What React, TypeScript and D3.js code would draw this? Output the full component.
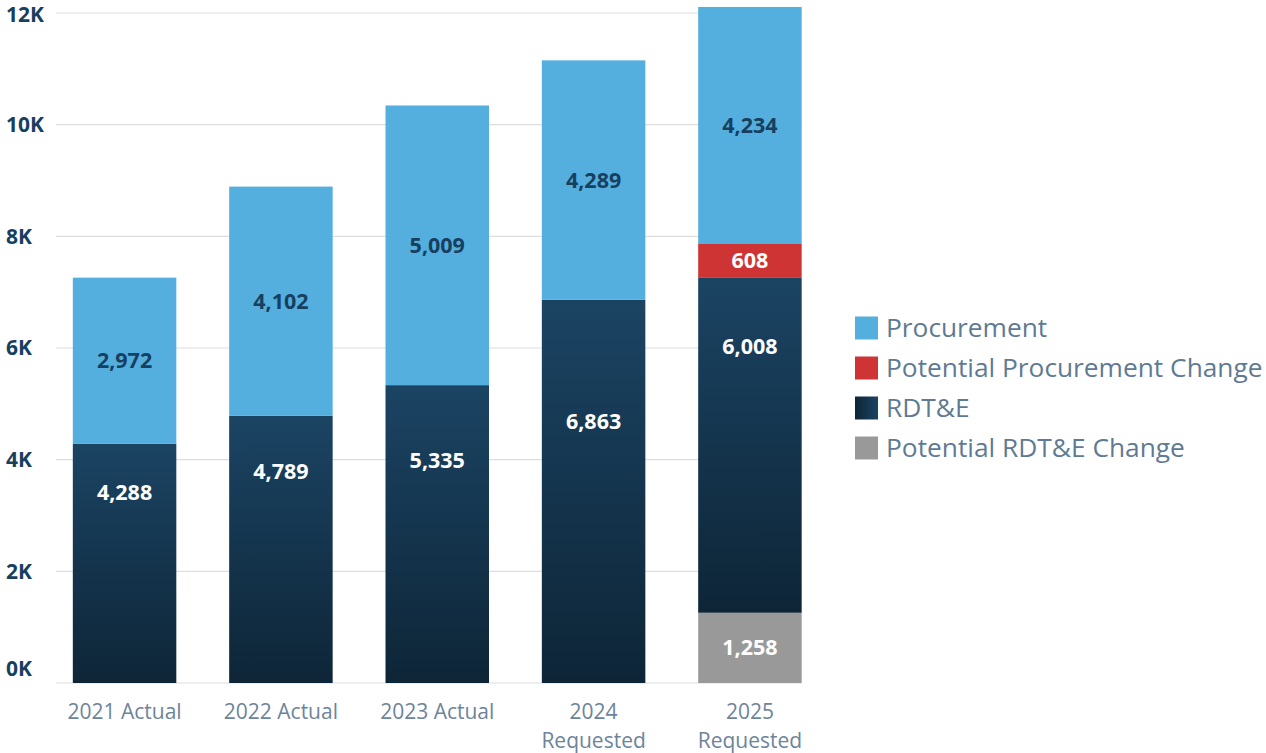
import React from "react";
import * as d3 from "d3";

const categories = ["2021 Actual", "2022 Actual", "2023 Actual", "2024 Requested", "2025 Requested"];
const potentialRdte = [0, 0, 0, 0, 1258];
const rdte = [4288, 4789, 5335, 6863, 6008];
const potentialProcurement = [0, 0, 0, 0, 608];
const procurement = [2972, 4102, 5009, 4289, 4234];
// where the RDT&E value labels sit, in data units
const rdteLabelAt = [3420, 3780, 3990, 4690, 6020];
const yTicks = [0, 2000, 4000, 6000, 8000, 10000, 12000];

const seriesNames = ["Procurement", "Potential Procurement Change", "RDT&E", "Potential RDT&E Change"];

const W = 1266;
const H = 753;
const FONT = "'Open Sans', 'Noto Sans', sans-serif";

export default function App() {
  const x = d3.scaleBand<string>().domain(categories).range([46.4, 828.1]).paddingInner(0.338).paddingOuter(0.169);
  const y = d3.scaleLinear().domain([0, 12000]).range([683, 13]);
  const fmt = d3.format(",");

  const stackKeys = ["potentialRdte", "rdte", "potentialProcurement", "procurement"];
  const rows = categories.map((c, i) => ({
    cat: c,
    potentialRdte: potentialRdte[i],
    rdte: rdte[i],
    potentialProcurement: potentialProcurement[i],
    procurement: procurement[i],
  }));
  const stacked = d3.stack<any>().keys(stackKeys)(rows);

  const fills: Record<string, string> = {
    potentialRdte: "#999999",
    rdte: "url(#darkV)",
    potentialProcurement: "#cf3435",
    procurement: "#54afde",
  };
  const labelColor: Record<string, string> = {
    potentialRdte: "#ffffff",
    rdte: "#ffffff",
    potentialProcurement: "#ffffff",
    procurement: "#173f5f",
  };
  const legendFills = ["#54afde", "#cf3435", "url(#darkH)", "#999999"];

  const bw = x.bandwidth();
  const gridX0 = 56;
  const gridX1 = (x(categories[categories.length - 1]) as number) + bw;

  return (
    <svg width={W} height={H} style={{ position: "absolute", left: 0, top: 0 }} fontFamily={FONT}>
      <defs>
        <linearGradient id="darkV" x1="0" y1="0" x2="0" y2="1">
          <stop offset="0" stopColor="#1b4463" />
          <stop offset="1" stopColor="#0e2537" />
        </linearGradient>
        <linearGradient id="darkH" x1="0" y1="0" x2="1" y2="0">
          <stop offset="0" stopColor="#0e2537" />
          <stop offset="1" stopColor="#1b4463" />
        </linearGradient>
      </defs>
      <rect x={0} y={0} width={W} height={H} fill="#ffffff" />
      {yTicks.map((t) => (
        <line key={"g" + t} x1={gridX0} x2={gridX1} y1={y(t)} y2={y(t)} stroke="#dedede" strokeWidth={1.2} />
      ))}
      {yTicks.map((t) => {
        const ty = Math.max(15, Math.min(y(t), y(0) - 14.5));
        return (
          <text key={"t" + t} x={6} y={ty} dy="0.35em" fontSize={21} fontWeight={700} fill="#173f5f">
            {t / 1000 + "K"}
          </text>
        );
      })}
      {stacked.map((s) =>
        s.map((d, i) => {
          const v = d[1] - d[0];
          if (v <= 0) return null;
          return (
            <rect
              key={s.key + i}
              x={x(categories[i]) as number}
              y={y(d[1])}
              width={bw}
              height={y(d[0]) - y(d[1])}
              fill={fills[s.key]}
            />
          );
        })
      )}
      {stacked.map((s) =>
        s.map((d, i) => {
          const v = d[1] - d[0];
          if (v <= 0) return null;
          const cy = s.key === "rdte" ? y(rdteLabelAt[i]) : y((d[0] + d[1]) / 2);
          return (
            <text
              key={"l" + s.key + i}
              x={(x(categories[i]) as number) + bw / 2}
              y={cy}
              dy="0.35em"
              textAnchor="middle"
              fontSize={21.5}
              fontWeight={700}
              fill={labelColor[s.key]}
            >
              {fmt(v)}
            </text>
          );
        })
      )}
      {categories.map((c) => {
        const parts = c.includes("Requested") ? c.split(" ") : [c];
        return (
          <text
            key={"x" + c}
            x={(x(c) as number) + bw / 2}
            y={712}
            textAnchor="middle"
            fontSize={21}
            fill="#6d849b"
          >
            {parts.map((p, k) => (
              <tspan key={k} x={(x(c) as number) + bw / 2} dy={k === 0 ? "0.35em" : 29}>
                {p}
              </tspan>
            ))}
          </text>
        );
      })}
      {seriesNames.map((n, i) => (
        <g key={n} transform={`translate(855, ${328 + i * 40})`}>
          <rect x={0} y={-11.5} width={23} height={23} fill={legendFills[i]} />
          <text x={31} y={0} dy="0.35em" fontSize={26.3} fill="#5f7a93">
            {n}
          </text>
        </g>
      ))}
    </svg>
  );
}
